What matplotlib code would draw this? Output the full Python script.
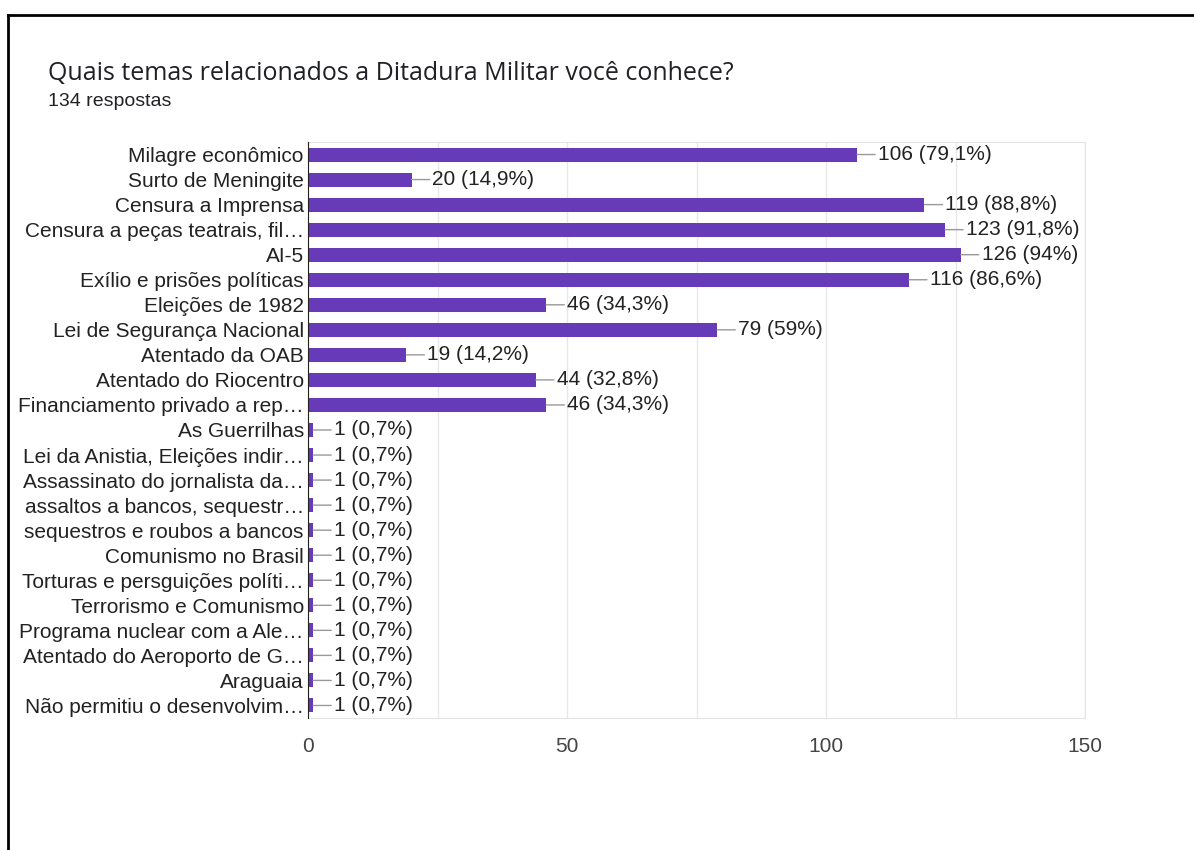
import matplotlib.pyplot as plt
from matplotlib.lines import Line2D

title = "Quais temas relacionados a Ditadura Militar você conhece?"
subtitle = "134 respostas"
categories = [
    "Milagre econômico",
    "Surto de Meningite",
    "Censura a Imprensa",
    "Censura a peças teatrais, fil…",
    "AI-5",
    "Exílio e prisões políticas",
    "Eleições de 1982",
    "Lei de Segurança Nacional",
    "Atentado da OAB",
    "Atentado do Riocentro",
    "Financiamento privado a rep…",
    "As Guerrilhas",
    "Lei da Anistia, Eleições indir…",
    "Assassinato do jornalista da…",
    "assaltos a bancos, sequestr…",
    "sequestros e roubos a bancos",
    "Comunismo no Brasil",
    "Torturas e persguições políti…",
    "Terrorismo e Comunismo",
    "Programa nuclear com a Ale…",
    "Atentado do Aeroporto de G…",
    "Araguaia",
    "Não permitiu o desenvolvim…",
]
counts = [106, 20, 119, 123, 126, 116, 46, 79, 19, 44, 46,
          1, 1, 1, 1, 1, 1, 1, 1, 1, 1, 1, 1]
pcts = ["79,1%", "14,9%", "88,8%", "91,8%", "94%", "86,6%", "34,3%", "59%",
        "14,2%", "32,8%", "34,3%"] + ["0,7%"] * 12
xticks = [0, 50, 100, 150]

plt.rcParams['font.family'] = ['Liberation Sans', 'DejaVu Sans']

fig = plt.figure(figsize=(11.94, 8.5), dpi=100)
ax = fig.add_axes([308/1194, 1-718/850, (1085-308)/1194, (718-142)/850])

ypos = list(range(len(categories)))
ax.barh(ypos, counts, height=0.56, color='#673ab7', zorder=3)
ax.set_ylim(len(categories) - 0.5, -0.5)
ax.set_xlim(0, 150)
ax.set_yticks(ypos)
ax.set_yticklabels(categories, fontsize=15, color='#222222')
ax.set_xticks(xticks)
ax.set_xticklabels([str(t) for t in xticks], fontsize=15, color='#444444')
ax.set_xticks(range(25, 150, 50), minor=True)
ax.tick_params(axis='both', length=0, which='both')
ax.tick_params(axis='x', pad=14)
ax.tick_params(axis='y', pad=3)
ax.grid(axis='x', which='both', color='#e8e8e8', linewidth=1, zorder=0)

for s in ['top', 'right', 'bottom']:
    ax.spines[s].set_color('#e4e4e4')
ax.spines['left'].set_color('#222222')
ax.spines['left'].set_zorder(4)

for y, c, p in zip(ypos, counts, pcts):
    ax.annotate(f"{c} ({p})", xy=(c, y), xytext=(15, 0), textcoords='offset points',
                ha='left', va='center', fontsize=15, color='#222222',
                arrowprops=dict(arrowstyle='-', color='#999999', lw=1,
                                shrinkA=0, shrinkB=0))

fig.text(48/1194, 1-74/850, title, fontsize=18, color='#202124',
         family=['Open Sans', 'DejaVu Sans'], va='center')
fig.text(48/1194, 1-101/850, subtitle, fontsize=14, color='#202124', va='center')

# page border
fig.add_artist(Line2D([8/1194, 1], [1-15/850, 1-15/850], color='black', lw=2))
fig.add_artist(Line2D([8/1194, 8/1194], [0, 1-15/850], color='black', lw=2))

fig.savefig("out.png", dpi=100)
